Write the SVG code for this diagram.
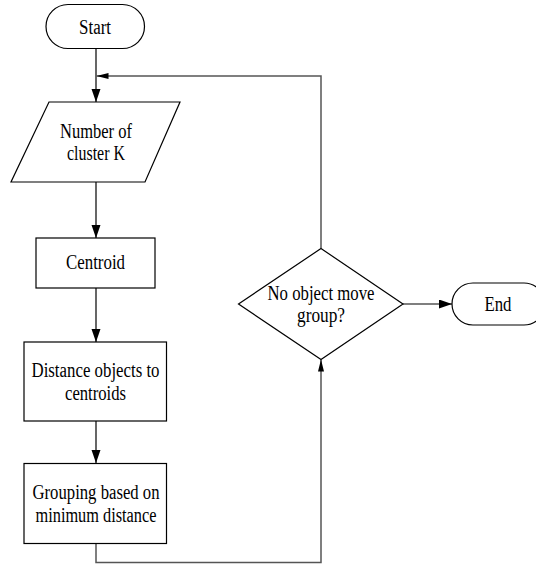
<svg xmlns="http://www.w3.org/2000/svg" width="536" height="565" viewBox="0 0 536 565">
  <style>
    .shape { fill: #ffffff; stroke: #000000; stroke-width: 1.2; }
    .label { font-family: "Liberation Serif", "Times New Roman", serif; font-size: 20px; fill: #000000; text-anchor: middle; dominant-baseline: central; }
    .flow { fill: none; stroke: #000000; stroke-width: 1.2; }
    .loop { fill: none; stroke: #555555; stroke-width: 1.5; }
  </style>
  <defs>
    <marker id="head" markerUnits="userSpaceOnUse" markerWidth="14" markerHeight="10" refX="13" refY="4.5" orient="auto">
      <path d="M0,0 L13,4.5 L0,9 z" fill="#000000"/>
    </marker>
    <marker id="headNarrow" markerUnits="userSpaceOnUse" markerWidth="13" markerHeight="7" refX="12" refY="3" orient="auto">
      <path d="M0,0 L12,3 L0,6 z" fill="#000000"/>
    </marker>
  </defs>

  <rect width="536" height="565" fill="#ffffff"/>

  <g id="connectors">
    <line class="flow" x1="96" y1="49" x2="96" y2="102" marker-end="url(#head)"/>
    <line class="flow" x1="96" y1="182" x2="96" y2="238" marker-end="url(#head)"/>
    <line class="flow" x1="96" y1="288" x2="96" y2="342" marker-end="url(#head)"/>
    <line class="flow" x1="96" y1="421" x2="96" y2="463" marker-end="url(#head)"/>
    <polyline class="loop" points="96,543 96,562.5 321,562.5 321,359.5" marker-end="url(#headNarrow)"/>
    <polyline class="loop" points="321,248.5 321,76 96.5,76" marker-end="url(#headNarrow)"/>
    <line class="flow" x1="403" y1="304" x2="452" y2="304" marker-end="url(#head)"/>
  </g>

  <g id="start">
    <rect class="shape" x="46" y="4.5" width="98.5" height="44" rx="22" ry="22"/>
    <text class="label" x="95" y="27" textLength="32" lengthAdjust="spacingAndGlyphs">Start</text>
  </g>

  <g id="input-k">
    <polygon class="shape" points="49,102 180,102 145,182 11,182"/>
    <text class="label" x="96" y="131" textLength="72" lengthAdjust="spacingAndGlyphs">Number of</text>
    <text class="label" x="96" y="153" textLength="58" lengthAdjust="spacingAndGlyphs">cluster K</text>
  </g>

  <g id="centroid">
    <rect class="shape" x="36" y="238" width="119" height="50"/>
    <text class="label" x="95.5" y="262" textLength="59" lengthAdjust="spacingAndGlyphs">Centroid</text>
  </g>

  <g id="distance">
    <rect class="shape" x="24" y="342" width="142.5" height="79"/>
    <text class="label" x="95.5" y="370" textLength="128" lengthAdjust="spacingAndGlyphs">Distance objects to</text>
    <text class="label" x="95.5" y="393" textLength="61" lengthAdjust="spacingAndGlyphs">centroids</text>
  </g>

  <g id="grouping">
    <rect class="shape" x="24" y="463.5" width="142.5" height="80"/>
    <text class="label" x="96" y="491.5" textLength="127" lengthAdjust="spacingAndGlyphs">Grouping based on</text>
    <text class="label" x="96" y="515" textLength="121" lengthAdjust="spacingAndGlyphs">minimum distance</text>
  </g>

  <g id="decision">
    <polygon class="shape" points="321,248.5 403,304 321,359.5 238.5,304"/>
    <text class="label" x="321" y="293" textLength="107" lengthAdjust="spacingAndGlyphs">No object move</text>
    <text class="label" x="321" y="315" textLength="48" lengthAdjust="spacingAndGlyphs">group?</text>
  </g>

  <g id="end">
    <rect class="shape" x="452" y="283" width="93" height="42" rx="21" ry="21"/>
    <text class="label" x="498" y="304" textLength="27" lengthAdjust="spacingAndGlyphs">End</text>
  </g>
</svg>
